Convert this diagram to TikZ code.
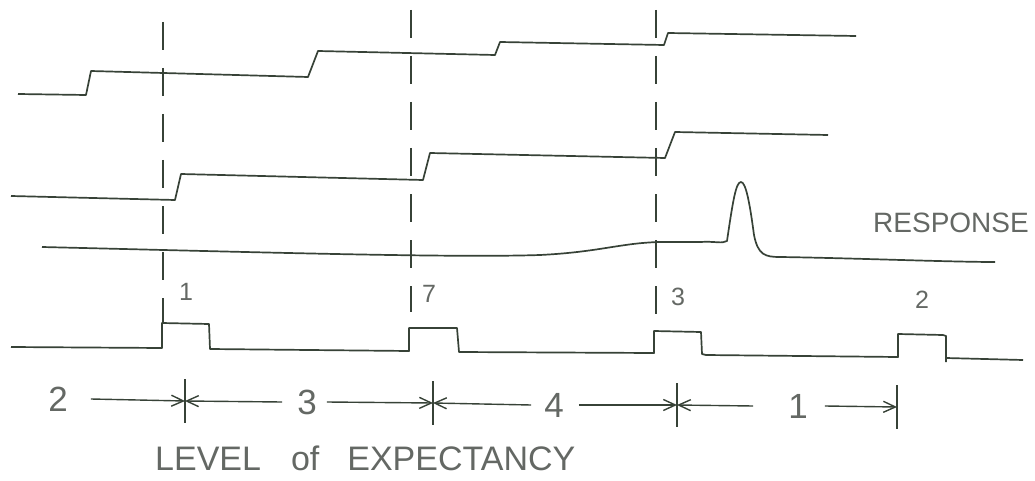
\documentclass[tikz,border=0pt]{standalone}
\usepackage{fontspec}
\setmainfont{Liberation Sans}
\usetikzlibrary{arrows.meta,positioning}
\definecolor{ink}{RGB}{55,66,55}
\definecolor{pencil}{RGB}{100,104,100}

\begin{document}
\begin{tikzpicture}[x=1pt,y=-1pt,
    trace/.style={ink,line width=1.7pt,line join=round},
    marker/.style={ink,line width=1.1pt,dash pattern=on 28pt off 18pt},
    tick/.style={ink,line width=1.4pt},
    dim/.style={ink,line width=1.4pt,-{Straight Barb[length=12pt,width=11pt,line width=1.4pt]}},
    pnum/.style={pencil,inner sep=0pt,font=\fontsize{25}{25}\selectfont},
    dnum/.style={pencil,inner sep=0pt,font=\fontsize{35}{35}\selectfont},
    caption/.style={pencil,inner sep=0pt,font=\fontsize{34}{34}\selectfont}]
  \useasboundingbox (0,0) rectangle (1035,481);
  % stimulus steps
  \draw[trace] (18,94)--(86,95)--(91,71)--(308,77)--(318,51)--(495,55)
    --(500,42)--(664,45)--(668,33)--(856,36);
  \draw[trace] (11,196)--(175,200)--(181,174)--(423,180)--(430,153)
    --(665,158)--(675,132)--(828,135);
  % response
  \draw[trace] (42,247) .. controls (250,252) and (450,258) .. (540,255)
    .. controls (600,252) and (620,243) .. (660,242) -- (700,242)
    .. controls (715,241) and (722,244) .. (727,241)
    .. controls (733,200) and (736,182) .. (741,182)
    .. controls (746,182) and (750,205) .. (754,235)
    .. controls (758,255) and (765,257) .. (780,257)
    .. controls (850,258) and (950,262) .. (995,262);
  \node[caption,anchor=base west,font=\fontsize{28}{28}\selectfont] (resp) at (873,232) {RESPONSE};
  % pulses
  \draw[trace] (11,347)--(162,348)--(162,323)--(209,324)--(210,349)
    --(409,351)--(409,328)--(457,328)--(459,352)--(654,353)--(654,331)
    --(701,332)--(702,354)--(706,355)--(898,357)--(898,334)--(943,335)
    --(946,336)--(946,362) (946,358)--(1023,360);
  \foreach \x/\ya/\yb in {163/22/323,411/10/312,656/10/326}
    \draw[marker] (\x,\ya) -- (\x,\yb);
  \node[pnum,anchor=base] (n1) at (186,300) {1};
  \node[pnum,anchor=base] (n7) at (429,302) {7};
  \node[pnum,anchor=base] (n3) at (678,305) {3};
  \node[pnum,anchor=base] (n2) at (922,308) {2};
  % level of expectancy
  \coordinate (c1) at (185,401);
  \coordinate (c2) at (433,403);
  \coordinate (c3) at (677,405);
  \coordinate (c4) at (897,407);
  \foreach \c in {c1,c2,c3,c4}
    \draw[tick] ([yshift=22pt]\c) -- ([yshift=-22pt]\c);
  \node[dnum] (d2) at (58,399) {2};
  \node[dnum] (d3) at (307,402) {3};
  \node[dnum] (d4) at (554,405) {4};
  \node[dnum] (d1) at (798,406) {1};
  \draw[dim] ([xshift=23pt]d2.east) -- (c1);
  \draw[dim] ([xshift=-15pt]d3.west) -- (c1);
  \draw[dim] ([xshift=10pt]d3.east) -- (c2);
  \draw[dim] ([xshift=-13pt]d4.west) -- (c2);
  \draw[dim] ([xshift=15pt]d4.east) -- (c3);
  \draw[dim] ([xshift=-35pt]d1.west) -- (c3);
  \draw[dim] ([xshift=17pt]d1.east) -- (c4);
  \node[caption,anchor=base west] (lvl) at (155,470)
    {LEVEL\hspace{30pt}of\hspace{28pt}EXPECTANCY};
\end{tikzpicture}
\end{document}
